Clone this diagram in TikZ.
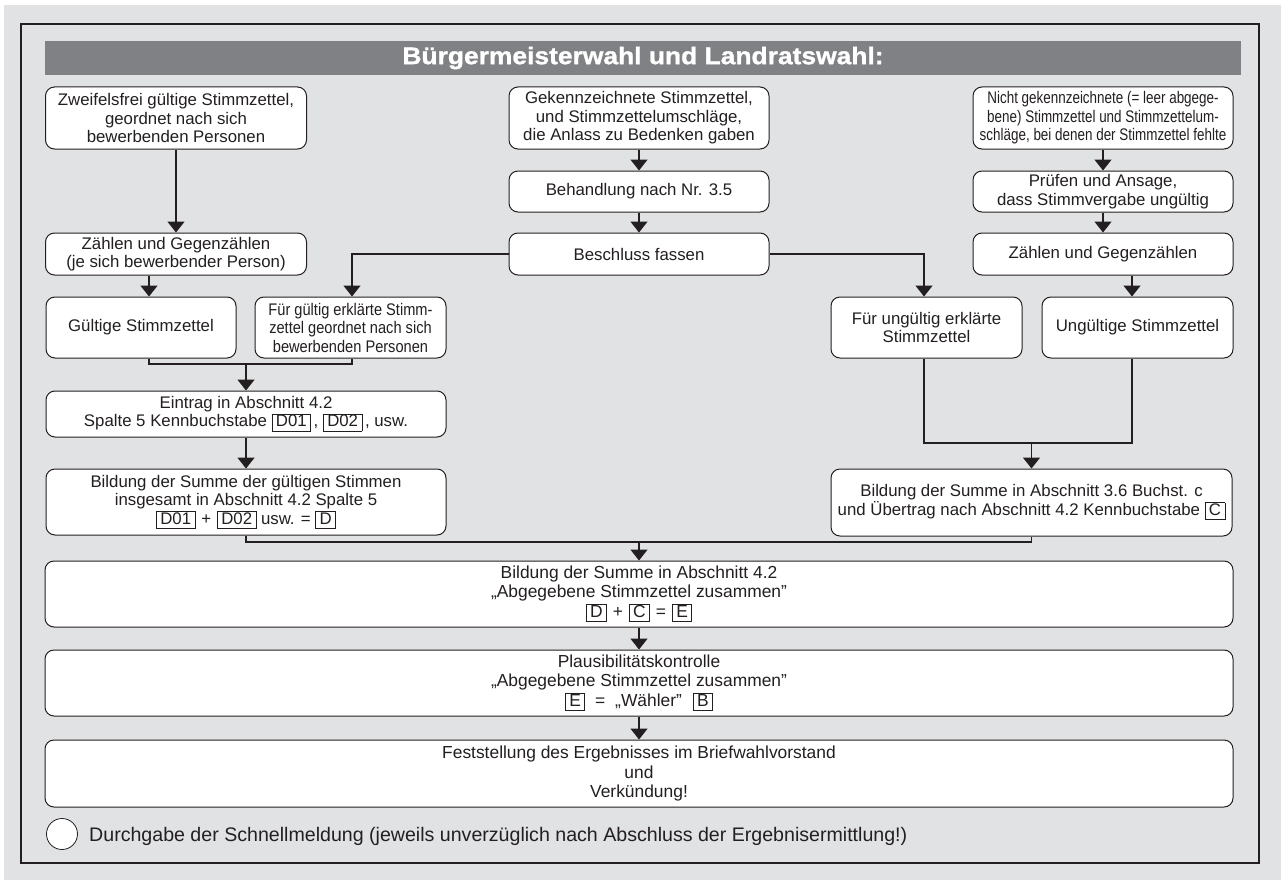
\documentclass[tikz,border=0pt]{standalone}
\usepackage{fontspec}
\setmainfont{Liberation Sans}
\newfontfamily\narrowfont{Liberation Sans}[FakeStretch=0.87]
\newfontfamily\narrowerfont{Liberation Sans}[FakeStretch=0.80]
\newfontfamily\titlefont{Liberation Sans Bold}[FakeStretch=1.1,FakeBold=1.2]
\usetikzlibrary{arrows.meta}
\definecolor{bg}{RGB}{225,226,228}
\definecolor{bar}{RGB}{128,129,132}
\definecolor{ink}{RGB}{35,31,32}
\newcommand{\kb}[1]{{\setlength{\fboxsep}{0pt}\setlength{\fboxrule}{0.7pt}\fbox{\hspace{3.5pt}\rule[-4pt]{0pt}{16.5pt}#1\hspace{3.5pt}}}}
\newcommand{\op}[1]{\hspace{6pt}#1\hspace{6pt}}
\newcommand{\wop}[1]{\hspace{10pt}#1\hspace{10pt}}
\begin{document}
\begin{tikzpicture}[x=1pt,y=-1pt,
  box/.style={draw=ink, line width=1pt, fill=white, rounded corners=9pt, align=center, inner sep=0pt, text=ink, font=\fontsize{16.8}{18.5}\selectfont},
  nbox/.style={box, font=\narrowfont\fontsize{16.8}{18.5}\selectfont},
  nnbox/.style={box, font=\narrowerfont\fontsize{16.8}{18.5}\selectfont},
  dbox/.style={box, font=\fontsize{17.4}{19.5}\selectfont},
  arr/.style={draw=ink, line width=1.6pt, -{Triangle[width=17pt,length=11pt]}},
  ln/.style={draw=ink, line width=1.6pt}]
\useasboundingbox (0,0) rectangle (1281,880);
\fill[white] (0,0) rectangle (1281,880);
\fill[bg] (4,5) rectangle (1281,880);
\draw[ink, line width=1.3pt] (21,24) rectangle (1259,863);
\node[fill=bar, minimum width=1196pt, minimum height=34pt, inner sep=0pt, text=white, font=\titlefont\fontsize{24}{26}\selectfont] (title) at (643,58) {Bürgermeisterwahl und Landratswahl:};

% left column
\node[box, minimum width=261pt, minimum height=62pt] (A1) at (176,118) {Zweifelsfrei gültige Stimmzettel,\\ geordnet nach sich\\ bewerbenden Personen};
\node[box, minimum width=261pt, minimum height=42pt] (A2) at (176,254) {Zählen und Gegenzählen\\ (je sich bewerbender Person)};
\node[box, minimum width=190pt, minimum height=61pt] (A3) at (141,327.5) {Gültige Stimmzettel};
\node[nbox, minimum width=191pt, minimum height=61pt] (A4) at (350.5,327.5) {Für gültig erklärte Stimm-\\ zettel geordnet nach sich\\ bewerbenden Personen};
\node[box, minimum width=400pt, minimum height=46pt] (A5) at (246,414) {Eintrag in Abschnitt 4.2\\ Spalte 5 Kennbuchstabe \kb{D01}\,, \kb{D02}\,, usw.};
\node[box, minimum width=400pt, minimum height=66pt] (A6) at (246,502) {Bildung der Summe der gültigen Stimmen\\ insgesamt in Abschnitt 4.2 Spalte 5\\ \kb{D01}\op{+}\kb{D02} usw. = \kb{D}};

% centre column
\node[box, minimum width=260pt, minimum height=62pt] (B1) at (639,118) {Gekennzeichnete Stimmzettel,\\ und Stimmzettelumschläge,\\ die Anlass zu Bedenken gaben};
\node[box, minimum width=260pt, minimum height=41pt] (B2) at (639,191.5) {Behandlung nach Nr. 3.5};
\node[box, minimum width=260pt, minimum height=42pt] (B3) at (639,254) {Beschluss fassen};

% right column
\node[nnbox, minimum width=260pt, minimum height=62pt] (C1) at (1103,118) {Nicht gekennzeichnete (= leer abgege-\\ bene) Stimmzettel und Stimmzettelum-\\ schläge, bei denen der Stimmzettel fehlte};
\node[box, minimum width=260pt, minimum height=41pt] (C2) at (1103,191.5) {Prüfen und Ansage,\\ dass Stimmvergabe ungültig};
\node[box, minimum width=260pt, minimum height=42pt] (C3) at (1103,254) {Zählen und Gegenzählen};
\node[box, minimum width=191pt, minimum height=61pt] (C4) at (926.5,327.5) {Für ungültig erklärte\\ Stimmzettel};
\node[box, minimum width=191pt, minimum height=61pt] (C5) at (1137.5,327.5) {Ungültige Stimmzettel};
\node[box, minimum width=401pt, minimum height=67pt] (C6) at (1031.5,502.5) {Bildung der Summe in Abschnitt 3.6 Buchst. c\\ und Übertrag nach Abschnitt 4.2 Kennbuchstabe \kb{C}};

% bottom
\node[dbox, minimum width=1188pt, minimum height=66pt] (D1) at (639,594) {Bildung der Summe in Abschnitt 4.2\\ „Abgegebene Stimmzettel zusammen”\\ \kb{D}\op{+}\kb{C}\op{=}\kb{E}};
\node[dbox, minimum width=1188pt, minimum height=66pt] (D2) at (639,683) {Plausibilitätskontrolle\\ „Abgegebene Stimmzettel zusammen”\\ \kb{E}\wop{=}„Wähler”\hspace{11pt}\kb{B}};
\node[dbox, minimum width=1188pt, minimum height=67pt] (D3) at (639,773.5) {Feststellung des Ergebnisses im Briefwahlvorstand\\ und\\ Verkündung!};

\node[circle, draw=ink, fill=white, line width=0.8pt, minimum size=31pt, inner sep=0pt] (circ) at (62,834) {};
\node[anchor=west, inner sep=0pt, text=ink, font=\fontsize{19.6}{22}\selectfont] (note) at (89,836) {Durchgabe der Schnellmeldung (jeweils unverzüglich nach Abschluss der Ergebnisermittlung!)};

% connectors
\draw[arr] (A1.south) -- (A2.north);
\draw[arr] ([xshift=8pt]A3.north |- A2.south) -- ([xshift=8pt]A3.north);
\draw[arr] (B1.south) -- (B2.north);
\draw[arr] (B2.south) -- (B3.north);
\draw[arr] (B3.west) -| ([xshift=1.5pt]A4.north);
\draw[arr] (B3.east) -| ([xshift=-2.5pt]C4.north);
\draw[arr] (C1.south) -- (C2.north);
\draw[arr] (C2.south) -- (C3.north);
\draw[arr] ([xshift=-5.5pt]C5.north |- C3.south) -- ([xshift=-5.5pt]C5.north);

\coordinate (mA) at (246,364);
\draw[ln] ([xshift=8pt]A3.south) |- (mA) -| ([xshift=1.5pt]A4.south);
\draw[arr] (mA) -- (A5.north);
\draw[arr] (A5.south) -- (A6.north);

\coordinate (mC) at (1031.5,443);
\draw[ln] ([xshift=-2.5pt]C4.south) |- (mC) -| ([xshift=-5.5pt]C5.south);
\draw[arr] (mC) -- (C6.north);

\coordinate (mD) at (639,542);
\draw[ln] (A6.south) |- (mD) -| (C6.south);
\draw[arr] (mD) -- (D1.north);
\draw[arr] (D1.south) -- (D2.north);
\draw[arr] (D2.south) -- (D3.north);
\end{tikzpicture}
\end{document}
